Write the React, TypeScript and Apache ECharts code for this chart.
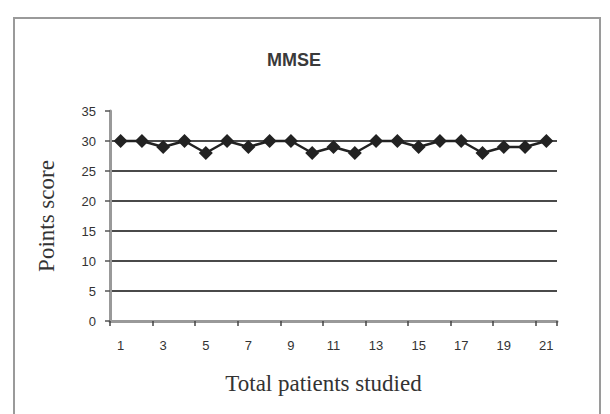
import React, { useEffect, useRef } from "react";
import * as echarts from "echarts";

const categories: string[] = [
  "1", "2", "3", "4", "5", "6", "7", "8", "9", "10", "11",
  "12", "13", "14", "15", "16", "17", "18", "19", "20", "21",
];
const mmseScores: number[] = [
  30, 30, 29, 30, 28, 30, 29, 30, 30, 28, 29,
  28, 30, 30, 29, 30, 30, 28, 29, 29, 30,
];
const yTicks = { min: 0, max: 35, interval: 5 };
const titleText = "MMSE";
const xAxisTitle = "Total patients studied";
const yAxisTitle = "Points score";

export default function App() {
  const ref = useRef<HTMLDivElement>(null);
  useEffect(() => {
    if (!ref.current) return;
    const chart = echarts.init(ref.current, undefined, { renderer: "svg" });
    const gridColor = "#4a4a4a";
    chart.setOption({
      animation: false,
      backgroundColor: "#ffffff",
      title: {
        text: titleText,
        left: 262,
        top: 46,
        textStyle: {
          fontFamily: "Arial, Liberation Sans, sans-serif",
          fontSize: 18,
          fontWeight: "bold",
          color: "#3a3a3a",
        },
      },
      graphic: [
        {
          type: "rect",
          shape: { x: 14, y: 18, width: 586, height: 420 },
          style: { fill: "none", stroke: "#9a9a9a", lineWidth: 2 },
          silent: true,
        },
      ],
      grid: { left: 110, right: 53, top: 111, bottom: 93 },
      xAxis: {
        type: "category",
        data: categories,
        boundaryGap: true,
        name: xAxisTitle,
        nameLocation: "middle",
        nameGap: 51,
        nameTextStyle: {
          fontFamily: "Liberation Serif, Times New Roman, serif",
          fontSize: 23,
          color: "#333",
          padding: [0, 20, 0, 0],
        },
        axisLine: { show: true, lineStyle: { color: "#999", width: 3 } },
        axisTick: { show: true, length: 5, lineStyle: { color: "#444", width: 1.5 } },
        axisLabel: {
          interval: 1,
          margin: 18,
          fontFamily: "Arial, Liberation Sans, sans-serif",
          fontSize: 13,
          color: "#333",
        },
        splitLine: { show: false },
      },
      yAxis: {
        type: "value",
        min: yTicks.min,
        max: yTicks.max,
        interval: yTicks.interval,
        name: yAxisTitle,
        nameLocation: "middle",
        nameGap: 52,
        nameRotate: 90,
        nameTextStyle: {
          fontFamily: "Liberation Serif, Times New Roman, serif",
          fontSize: 23,
          color: "#333",
        },
        axisLine: { show: true, lineStyle: { color: "#999", width: 3 } },
        axisTick: { show: true, length: 5, lineStyle: { color: "#555", width: 1.5 } },
        axisLabel: {
          margin: 14,
          fontFamily: "Arial, Liberation Sans, sans-serif",
          fontSize: 13,
          color: "#333",
        },
        splitLine: {
          show: true,
          lineStyle: {
            color: [gridColor, gridColor, gridColor, gridColor, gridColor, gridColor, gridColor, "transparent"],
            width: 2,
          },
        },
      },
      series: [
        {
          type: "line",
          data: mmseScores,
          symbol: "diamond",
          symbolSize: 14,
          lineStyle: { color: "#222", width: 2.5 },
          itemStyle: { color: "#222" },
          z: 5,
        },
      ],
    });
    return () => chart.dispose();
  }, []);
  return (
    <div
      ref={ref}
      style={{ position: "fixed", left: 0, top: 0, width: 610, height: 414 }}
    />
  );
}
